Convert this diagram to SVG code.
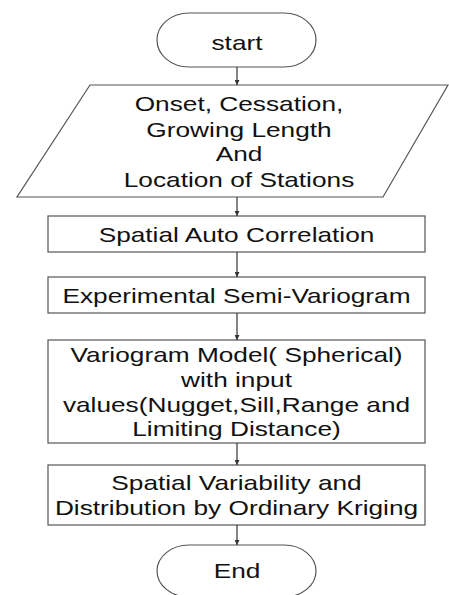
<svg xmlns="http://www.w3.org/2000/svg" width="449" height="595" viewBox="0 0 449 595">
<defs>
<style>
.shape{fill:#fff;stroke:#555;stroke-width:1.2}
.lbl{font-family:"Liberation Sans",Arial,sans-serif;font-size:21px;fill:#111;text-anchor:middle}
.conn line{stroke:#333;stroke-width:1.2;marker-end:url(#ah)}
</style>
<marker id="ah" viewBox="0 0 6 6" refX="6" refY="3" markerWidth="5" markerHeight="5" orient="auto" markerUnits="userSpaceOnUse">
<path d="M0,0 L6,3 L0,6 z" fill="#333"/>
</marker>
</defs>
<rect width="449" height="595" fill="#fff"/>
<g id="start">
<rect class="shape" x="157" y="13" width="159" height="54" rx="32" ry="27"/>
<text class="lbl" transform="translate(237,50) scale(1.25,1)">start</text>
</g>
<g id="input">
<polygon class="shape" points="90,85 448,85 383,197 17,197"/>
<text class="lbl" transform="translate(239,111) scale(1.25,1)">Onset, Cessation,</text>
<text class="lbl" transform="translate(239,137) scale(1.25,1)">Growing Length</text>
<text class="lbl" transform="translate(239,161) scale(1.25,1)">And</text>
<text class="lbl" transform="translate(239,187) scale(1.25,1)">Location of Stations</text>
</g>
<g id="autocorr">
<rect class="shape" x="48" y="216" width="377" height="36"/>
<text class="lbl" transform="translate(236.5,242) scale(1.25,1)">Spatial Auto Correlation</text>
</g>
<g id="semivar">
<rect class="shape" x="48" y="277" width="377" height="36"/>
<text class="lbl" transform="translate(236.5,303) scale(1.25,1)">Experimental Semi-Variogram</text>
</g>
<g id="model">
<rect class="shape" x="48" y="340" width="377" height="103"/>
<text class="lbl" transform="translate(236.5,362) scale(1.25,1)">Variogram Model( Spherical)</text>
<text class="lbl" transform="translate(236.5,387) scale(1.25,1)">with input</text>
<text class="lbl" transform="translate(236.5,412) scale(1.25,1)">values(Nugget,Sill,Range and</text>
<text class="lbl" transform="translate(236.5,436) scale(1.25,1)">Limiting Distance)</text>
</g>
<g id="kriging">
<rect class="shape" x="48" y="465" width="377" height="60"/>
<text class="lbl" transform="translate(236.5,490) scale(1.25,1)">Spatial Variability and</text>
<text class="lbl" transform="translate(236.5,515) scale(1.25,1)">Distribution by Ordinary Kriging</text>
</g>
<g id="end">
<rect class="shape" x="157" y="545" width="159" height="52" rx="32" ry="26"/>
<text class="lbl" transform="translate(237,578) scale(1.25,1)">End</text>
</g>
<g class="conn" id="connectors">
<line x1="237" y1="67" x2="237" y2="85"/>
<line x1="237" y1="197" x2="237" y2="216"/>
<line x1="237" y1="252" x2="237" y2="277"/>
<line x1="237" y1="313" x2="237" y2="340"/>
<line x1="237" y1="443" x2="237" y2="465"/>
<line x1="237" y1="525" x2="237" y2="545"/>
</g>
</svg>
